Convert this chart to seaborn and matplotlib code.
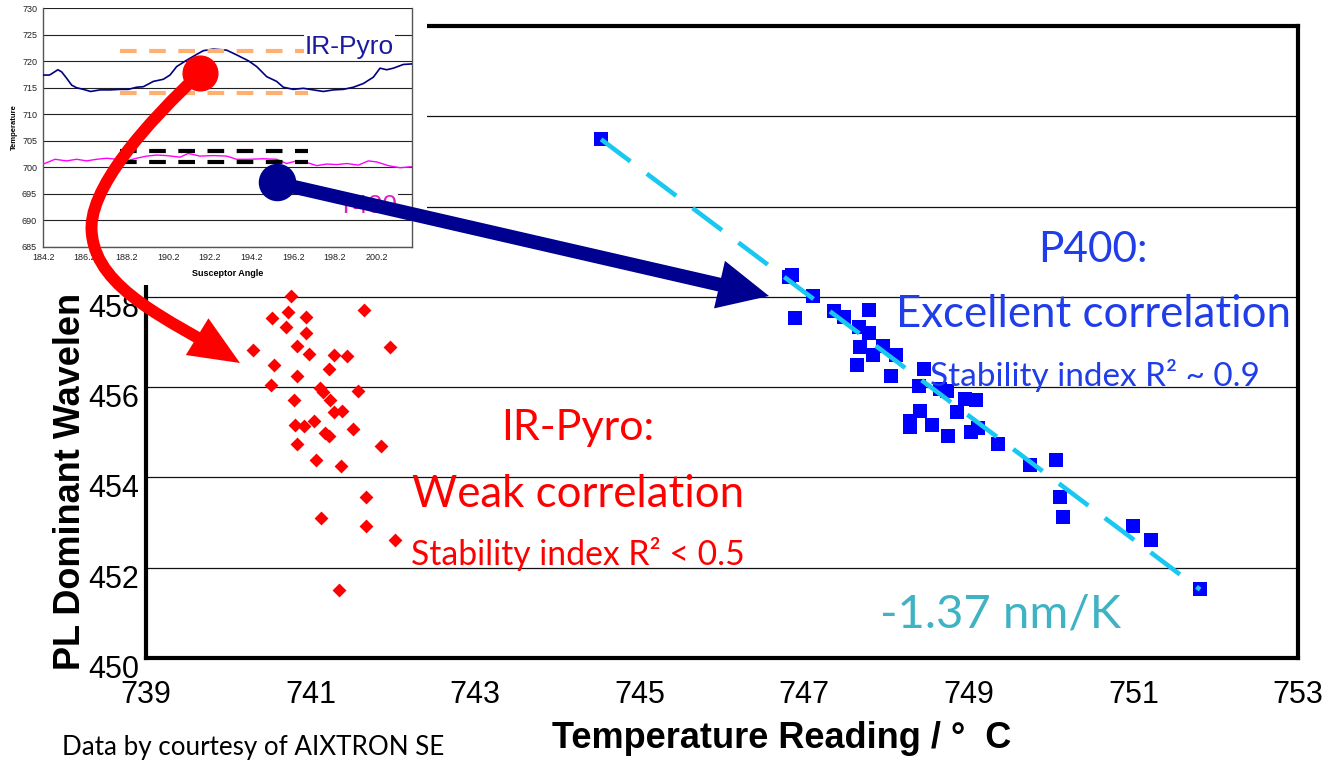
import numpy as np
import seaborn as sns
import matplotlib.pyplot as plt
from matplotlib.patches import FancyArrowPatch, Rectangle, ArrowStyle
from matplotlib.path import Path
from matplotlib.lines import Line2D
import matplotlib.transforms as mtransforms

# datos principales: temperatura vs longitud de onda
pyro_temp = [740.76, 740.72, 740.53, 740.95, 740.70, 740.95, 741.65, 740.30, 740.83, 740.98,
             741.28, 741.44, 741.97, 740.56, 741.23, 740.83, 740.52, 741.11, 741.15, 741.58,
             740.80, 741.24, 741.28, 741.38, 741.04, 740.81, 740.92, 741.18, 741.23, 741.52,
             740.83, 741.86, 741.06, 741.37, 741.67, 741.13, 741.67, 742.03, 741.34]
pyro_wl = [458.02, 457.67, 457.54, 457.56, 457.34, 457.20, 457.71, 456.82, 456.92, 456.73,
           456.72, 456.70, 456.90, 456.50, 456.40, 456.25, 456.05, 455.98, 455.89, 455.92,
           455.72, 455.72, 455.44, 455.48, 455.26, 455.16, 455.13, 454.98, 454.91, 455.07,
           454.74, 454.69, 454.39, 454.26, 453.56, 453.11, 452.92, 452.62, 451.50]

p400_temp = [744.53, 746.82, 746.85, 747.10, 746.89, 747.36, 747.48, 747.79, 747.66, 747.79,
             747.68, 747.84, 747.96, 748.12, 747.64, 748.05, 748.46, 748.40, 748.65, 748.74,
             748.95, 749.09, 748.41, 748.28, 748.28, 748.55, 748.86, 748.75, 749.03, 749.11,
             749.36, 749.74, 750.06, 750.11, 750.14, 750.99, 751.21, 751.81]
p400_wl = [461.49, 458.43, 458.48, 458.02, 457.54, 457.68, 457.56, 457.71, 457.34, 457.19,
           456.90, 456.72, 456.92, 456.72, 456.50, 456.25, 456.40, 456.03, 455.96, 455.91,
           455.74, 455.72, 455.48, 455.26, 455.11, 455.17, 455.44, 454.91, 455.00, 455.10,
           454.73, 454.27, 454.39, 453.56, 453.12, 452.92, 452.61, 451.52]

slope = -1.37  # nm/K

x_ticks = [739, 741, 743, 745, 747, 749, 751, 753]
y_ticks = [450, 452, 454, 456, 458, 460, 462, 464]

# datos del recuadro: temperatura vs angulo del susceptor
pyro_angle = [184.2, 184.5, 184.9, 185.08, 185.32, 185.56, 185.8, 186.12, 186.47, 186.92,
              187.4, 187.88, 188.28, 188.68, 189.0, 189.48, 189.96, 190.28, 190.6, 191.08,
              191.56, 191.88, 192.36, 193.0, 193.48, 194.04, 194.44, 194.92, 195.4, 195.72,
              196.2, 196.68, 197.16, 197.64, 198.12, 198.6, 199.08, 199.56, 200.04, 200.36,
              200.68, 201.0, 201.48, 201.88]
pyro_curve = [717.4, 717.4, 718.4, 718.0, 716.8, 715.5, 715.0, 714.7, 714.3, 714.6,
              714.6, 714.7, 714.7, 715.1, 715.2, 716.2, 716.6, 717.4, 719.0, 720.2,
              721.3, 722.0, 722.3, 722.1, 721.2, 720.1, 719.0, 717.1, 716.2, 715.1,
              714.7, 714.9, 714.6, 714.3, 714.6, 714.7, 715.1, 715.8, 717.0, 718.7,
              718.4, 718.7, 719.4, 719.5]

t400_angle = [184.2, 184.76, 185.32, 185.8, 186.28, 186.76, 187.24, 187.72, 188.2, 188.68,
              189.16, 189.64, 190.12, 190.76, 191.16, 191.72, 192.36, 193.0, 193.48, 194.04,
              194.76, 195.4, 195.88, 196.36, 196.84, 197.32, 197.8, 198.28, 198.76, 199.32,
              199.8, 200.2, 200.76, 201.32, 201.88]
t400_curve = [700.6, 701.5, 701.2, 701.5, 701.2, 701.5, 701.7, 701.5, 701.2, 701.7,
              702.1, 702.3, 702.2, 701.9, 702.6, 702.1, 702.2, 702.1, 701.5, 701.5,
              701.6, 701.5, 700.7, 701.2, 700.9, 700.3, 700.6, 700.5, 700.7, 700.4,
              701.2, 701.0, 700.3, 699.9, 700.1]

band_x = [187.9, 196.9]
pyro_band = [722, 714]
t400_band = [703, 701]
inset_xticks = [184.2, 186.2, 188.2, 190.2, 192.2, 194.2, 196.2, 198.2, 200.2]
inset_yticks = [685, 690, 695, 700, 705, 710, 715, 720, 725, 730]

sns.set_style("white")
plt.rcParams['font.family'] = ['Liberation Sans', 'DejaVu Sans']
plt.rcParams['text.color'] = 'black'
plt.rcParams['axes.labelcolor'] = 'black'
plt.rcParams['xtick.color'] = 'black'
plt.rcParams['ytick.color'] = 'black'

W, H = 1336, 765


def fx(px):
    return px / W


def fy(py):
    return 1 - py / H


fig = plt.figure(figsize=(13.36, 7.65), dpi=100)

# grafico principal
ax = fig.add_axes([fx(146), fy(658), (1298 - 146) / W, (658 - 26) / H])

sns.scatterplot(x=pyro_temp, y=pyro_wl, marker="D", s=50, color="#ff0000",
                linewidth=0, ax=ax, zorder=3)
sns.scatterplot(x=p400_temp, y=p400_wl, marker="s", s=92, color="#0000ff",
                linewidth=0, ax=ax, zorder=3)

fit_x = np.array([min(p400_temp), max(p400_temp)])
fit_y = p400_wl[0] + slope * (fit_x - p400_temp[0])
sns.lineplot(x=fit_x, y=fit_y, ax=ax, color="#19c8f0", lw=3.3,
             linestyle=(0, (8, 4.5)), zorder=4)

ax.set_xlim(739, 753)
ax.set_ylim(450, 464)
ax.set_xticks(x_ticks)
ax.set_yticks(y_ticks)
ax.grid(axis="y", color="#111111", lw=0.9)
ax.grid(axis="x", visible=False)
ax.set_axisbelow(True)
for s in ax.spines.values():
    s.set_color("black")
    s.set_linewidth(3)
ax.tick_params(axis="both", labelsize=22, direction="out", length=4, width=1,
               color="black", labelcolor="black")
ax.tick_params(axis="x", pad=12)
ax.tick_params(axis="y", pad=1)
offset = mtransforms.ScaledTranslation(0, -6 / 72, fig.dpi_scale_trans)
for lab in ax.get_yticklabels():
    lab.set_transform(lab.get_transform() + offset)

ax.set_xlabel("Temperature Reading / °  C", fontsize=26, fontweight="bold", color="black")
ax.xaxis.set_label_coords((782 - 146) / 1152, -0.1)
ax.set_ylabel("PL Dominant Wavelen", fontsize=26, fontweight="bold", color="black")
ax.yaxis.set_label_coords(-0.05, 0.28)

# textos
txt = dict(family=["Lato", "DejaVu Sans"], ha="center", va="baseline", zorder=3)
fig.text(fx(1093), fy(262), "P400:", fontsize=30.5, color="#1f3de8", **txt)
fig.text(fx(1093), fy(327), "Excellent correlation", fontsize=31.5, color="#1f3de8", **txt)
fig.text(fx(1095), fy(386), "Stability index R² ~ 0.9", fontsize=24, color="#1f3de8", **txt)
fig.text(fx(578), fy(440), "IR-Pyro:", fontsize=31, color="#ff0000", **txt)
fig.text(fx(578), fy(507), "Weak correlation", fontsize=31.5, color="#ff0000", **txt)
fig.text(fx(578), fy(565), "Stability index R² < 0.5", fontsize=24.3, color="#ff0000", **txt)
fig.text(fx(1000), fy(628), "-1.37 nm/K", fontsize=34, color="#3fb3c3", **txt)
fig.text(fx(62), fy(748), "Data by courtesy of AIXTRON SE", fontsize=18.7,
         family=["Lato", "DejaVu Sans"], va="center", ha="left", color="black")

# recuadro (inset)
fig.add_artist(Rectangle((0, fy(285)), fx(427), 285 / H, transform=fig.transFigure,
                         facecolor="white", edgecolor="none", zorder=1))
axin = fig.add_axes([fx(43.3), fy(246.7), (411.7 - 43.3) / W, (246.7 - 8.3) / H])
axin.set_zorder(2)
sns.lineplot(x=pyro_angle, y=pyro_curve, ax=axin, color="#000080", lw=1.2, zorder=3)
sns.lineplot(x=t400_angle, y=t400_curve, ax=axin, color="#ff00ff", lw=1.0, zorder=3)
axin.hlines(pyro_band, band_x[0], band_x[1], colors="#ffb070", lw=3,
            linestyles=[(0, (4, 3))], zorder=4)
axin.hlines(t400_band, band_x[0], band_x[1], colors="black", lw=3,
            linestyles=[(0, (4, 3))], zorder=4)
axin.set_xlim(184.2, 201.88)
axin.set_ylim(685, 730)
axin.set_xticks(inset_xticks)
axin.set_xticklabels([f"{v:.1f}" for v in inset_xticks])
axin.set_yticks(inset_yticks)
axin.grid(axis="y", color="#222222", lw=0.8)
axin.set_axisbelow(True)
axin.tick_params(labelsize=6.5, length=2.5, width=0.8, direction="out",
                 colors="#555555", labelcolor="#222222", pad=2)
axin.spines["top"].set_visible(False)
for side in ["left", "bottom", "right"]:
    axin.spines[side].set_color("#555555")
    axin.spines[side].set_linewidth(1)
axin.set_xlabel("Susceptor Angle", fontsize=6.5, fontweight="bold", labelpad=5)
axin.set_ylabel("Temperature", fontsize=5.5, fontweight="bold", labelpad=3)
axin.text(198.9, 722.7, "IR-Pyro", fontsize=19, color="#1a1a9e", ha="center",
          va="center", zorder=5,
          bbox=dict(facecolor="white", edgecolor="none", pad=1))
axin.text(199.74, 692.7, "T400", fontsize=19, color="#e020c0", ha="center",
          va="center", zorder=5,
          bbox=dict(facecolor="white", edgecolor="none", pad=1))

# flechas
red_path = Path([(fx(200), fy(73)), (fx(150), fy(120)), (fx(85), fy(190)), (fx(92), fy(235)),
                 (fx(98), fy(290)), (fx(170), fy(320)), (fx(240), fy(363))],
                [Path.MOVETO, Path.CURVE4, Path.CURVE4, Path.CURVE4,
                 Path.CURVE4, Path.CURVE4, Path.CURVE4])
red_arrow = FancyArrowPatch(path=red_path, transform=fig.transFigure,
                            arrowstyle=ArrowStyle("-|>", head_length=1.05, head_width=0.45),
                            mutation_scale=20, color="#ff0000", lw=8.6,
                            joinstyle="miter", capstyle="butt", zorder=5)
fig.add_artist(red_arrow)

blue_arrow = FancyArrowPatch((fx(277), fy(183)), (fx(769), fy(296)),
                             transform=fig.transFigure,
                             arrowstyle=ArrowStyle("-|>", head_length=1.0, head_width=0.48),
                             mutation_scale=20, color="#000090", lw=10,
                             shrinkA=0, shrinkB=0, joinstyle="miter", capstyle="butt",
                             zorder=5)
fig.add_artist(blue_arrow)

fig.add_artist(Line2D([fx(200)], [fy(73)], marker="o", markersize=25, color="#ff0000",
                      linestyle="none", transform=fig.transFigure, zorder=6))
fig.add_artist(Line2D([fx(277)], [fy(182)], marker="o", markersize=26, color="#000090",
                      linestyle="none", transform=fig.transFigure, zorder=6))

plt.savefig("out.png", dpi=100)
